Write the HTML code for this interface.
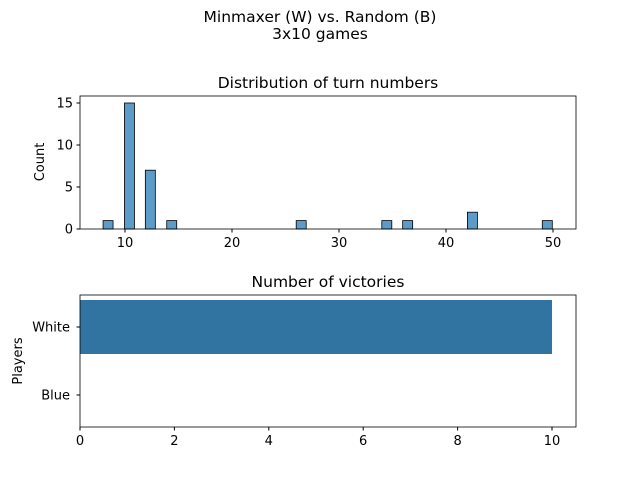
<!DOCTYPE html>
<html><head><meta charset="utf-8"><style>
body{margin:0;background:#fff}
svg text{font-family:"DejaVu Sans","Liberation Sans",sans-serif;fill:#000}
</style></head><body>
<svg id="c" width="640" height="480" xmlns="http://www.w3.org/2000/svg">
<text x="320" y="22" font-size="15.5" text-anchor="middle">Minmaxer (W) vs. Random (B)</text>
<text x="320" y="39" font-size="15.5" text-anchor="middle">3x10 games</text>
<text x="328" y="88" font-size="15.5" text-anchor="middle">Distribution of turn numbers</text>
<text x="328" y="287" font-size="15.5" text-anchor="middle">Number of victories</text>
<g id="top"></g><g id="bot"></g>
</svg>
<script>
const binStarts=[7.95,9.95,11.9,13.9,26.0,34.0,35.95,42.0,49.0];
const binCounts=[1,15,7,1,1,1,1,2,1];
const binWidth=1.0;
const histXTicks=[10,20,30,40,50];
const histYTicks=[0,5,10,15];
const players=["White","Blue"];
const victories=[10,0];
const vicTicks=[0,2,4,6,8,10];
const NS="http://www.w3.org/2000/svg";
function mk(p,t,a,txt){const e=document.createElementNS(NS,t);for(const k in a)e.setAttribute(k,a[k]);if(txt!==undefined)e.textContent=txt;p.appendChild(e);return e;}
const T=document.getElementById('top');
const hx=v=>18+v*10.7, hy=v=>229-v*8.4;
binStarts.forEach((s,i)=>{
 const r=mk(T,'rect',{x:hx(s),y:hy(binCounts[i]),width:binWidth*10.7-0.7,height:binCounts[i]*8.4,fill:'#5d9bc9',stroke:'#000','stroke-width':0.8});
 
 
});
histXTicks.forEach(v=>{mk(T,'line',{x1:hx(v),x2:hx(v),y1:229,y2:232.5,stroke:'#000'});
 const t=mk(T,'text',{x:hx(v),y:247,'font-size':13,'text-anchor':'middle'},v);
 
 });
histYTicks.forEach(v=>{mk(T,'line',{x1:76.5,x2:80,y1:hy(v),y2:hy(v),stroke:'#000'});
 const t=mk(T,'text',{x:73,y:hy(v)+4.5,'font-size':13,'text-anchor':'end'},v);
 
 });
const yl=mk(T,'text',{x:0,y:0,'font-size':13,'text-anchor':'middle',transform:'translate(44,162) rotate(-90)'},'Count');


mk(T,'rect',{x:80,y:96,width:496,height:133,fill:'none',stroke:'#000','stroke-width':0.8});
const B=document.getElementById('bot');
const bx=v=>80+v*47.2, by=i=>327+i*68;
players.forEach((p,i)=>{
 const r=mk(B,'rect',{x:bx(0),y:by(i)-27,width:bx(victories[i])-bx(0),height:54,fill:'#3274a1'});
 
 
 mk(B,'line',{x1:76.5,x2:80,y1:by(i),y2:by(i),stroke:'#000'});
 const t=mk(B,'text',{x:70,y:by(i)+4.5,'font-size':13,'text-anchor':'end'},p);
 
 
});
vicTicks.forEach(v=>{mk(B,'line',{x1:bx(v),x2:bx(v),y1:427,y2:430.5,stroke:'#000'});
 const t=mk(B,'text',{x:bx(v),y:445,'font-size':13,'text-anchor':'middle'},v);
 
 });
const yl2=mk(B,'text',{x:0,y:0,'font-size':13,'text-anchor':'middle',transform:'translate(22,361) rotate(-90)'},'Players');


mk(B,'rect',{x:80,y:295,width:496,height:132,fill:'none',stroke:'#000','stroke-width':0.8});
</script>
</body></html>
